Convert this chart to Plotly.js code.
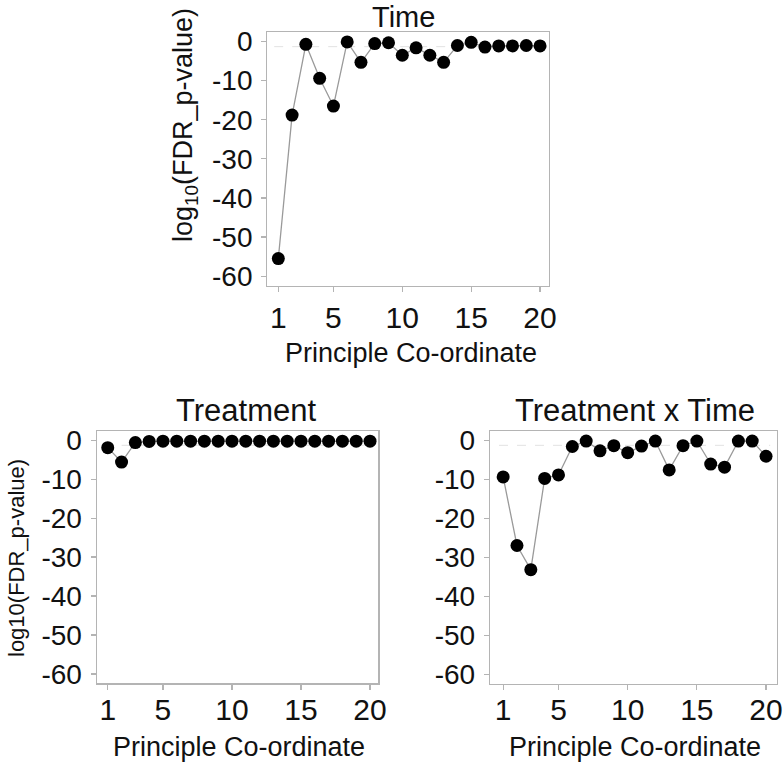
<!DOCTYPE html>
<html>
<head>
<meta charset="utf-8">
<script src="https://cdn.plot.ly/plotly-3.0.1.min.js"></script>
<style>html,body{margin:0;padding:0;background:#fff;}#chart{width:783px;height:764px;}</style>
</head>
<body>
<div id="chart"></div>
<script>
// ---- data ----
const coords = [1,2,3,4,5,6,7,8,9,10,11,12,13,14,15,16,17,18,19,20];
const timeVals = [-55.5,-18.8,-0.7,-9.4,-16.5,-0.1,-5.3,-0.5,-0.3,-3.5,-1.6,-3.5,-5.3,-1.0,-0.2,-1.4,-1.1,-1.1,-1.0,-1.1];
const treatmentVals = [-1.9,-5.6,-0.6,-0.3,-0.25,-0.25,-0.25,-0.25,-0.25,-0.25,-0.25,-0.25,-0.25,-0.25,-0.25,-0.25,-0.25,-0.25,-0.25,-0.25];
const interactionVals = [-9.4,-27.0,-33.2,-9.8,-8.9,-1.6,-0.2,-2.7,-1.4,-3.2,-1.5,-0.2,-7.6,-1.4,-0.2,-6.1,-6.9,-0.2,-0.2,-4.1];
const panelTitles = ["Time","Treatment","Treatment x Time"];
const xTicks = [1,5,10,15,20];
const yTicks = [0,-10,-20,-30,-40,-50,-60];
const threshold = -1.3;

const W = 783, H = 764;
const FONT = "Liberation Sans, Arial, sans-serif";

function trace(y, xa, ya){
  return {x: coords, y: y, xaxis: xa, yaxis: ya, type:'scatter', mode:'lines+markers',
    line:{color:'#9a9a9a', width:1.3},
    marker:{color:'#000', size:13},
    hoverinfo:'x+y', showlegend:false};
}

function xaxis(dom, rng, anchor, standoff){
  return {domain: dom, range: rng, anchor: anchor, tickvals: xTicks, ticktext: xTicks.map(String),
    showline:true, mirror:true, linecolor:'#b4b4b4', linewidth:1.2,
    ticks:'outside', ticklen:5, tickcolor:'#b4b4b4', tickwidth:1.2, ticklabelstandoff:standoff,
    showgrid:false, zeroline:false, tickfont:{family:FONT, size:30, color:'#111'}};
}
function yaxis(dom, anchor){
  return {domain: dom, range:[-62.4, 2.45], anchor: anchor, tickvals: yTicks, ticktext: yTicks.map(String),
    showline:true, mirror:true, linecolor:'#b4b4b4', linewidth:1.2,
    ticks:'outside', ticklen:5, tickcolor:'#b4b4b4', tickwidth:1.2, ticklabelstandoff:3,
    showgrid:false, zeroline:false, tickfont:{family:FONT, size:28, color:'#111'}};
}

// panel boxes (pixels)
const boxes = [
  {l:267.3, r:549, t:32, b:285.5},
  {l:96.7, r:378.3, t:430.7, b:683.3},
  {l:490, r:776.7, t:430.7, b:683.5}
];
function xd(b){return [b.l/W, b.r/W];}
function yd(b){return [1-b.b/H, 1-b.t/H];}

const data = [
  trace(timeVals,'x','y'),
  trace(treatmentVals,'x2','y2'),
  trace(interactionVals,'x3','y3')
];

const shapes = [['x','y'],['x2','y2'],['x3','y3']].map(([xa,ya]) => ({
  type:'line', xref:xa, yref:ya, x0:0.7, x1:20.3, y0:threshold, y1:threshold,
  line:{color:'#e2e2e2', width:1, dash:'dash'}, layer:'below'
}));

const annotations = [];
const titleY = [17, 410, 410];
const titleX = [403, 247, 635];
const titleSize = [29, 31, 31];
panelTitles.forEach((t,i)=>{
  annotations.push({text:t, xref:'paper', yref:'paper', x:titleX[i]/W, y:1-titleY[i]/H,
    xanchor:'center', yanchor:'middle', showarrow:false, font:{family:FONT, size:titleSize[i], color:'#111'}});
});
// x axis titles
[[411,353],[239,747],[635,747]].forEach(([cx,cy])=>{
  annotations.push({text:'Principle Co-ordinate', xref:'paper', yref:'paper', x:cx/W, y:1-cy/H,
    xanchor:'center', yanchor:'middle', showarrow:false, font:{family:FONT, size:27, color:'#111'}});
});
// y axis titles
annotations.push({text:'log<sub>10</sub>(FDR_p-value)', xref:'paper', yref:'paper', x:185/W, y:1-125/H,
  xanchor:'center', yanchor:'middle', textangle:-90, showarrow:false, font:{family:FONT, size:27, color:'#111'}});
annotations.push({text:'log10(FDR_p-value)', xref:'paper', yref:'paper', x:16/W, y:1-558/H,
  xanchor:'center', yanchor:'middle', textangle:-90, showarrow:false, font:{family:FONT, size:22, color:'#111'}});

const layout = {
  width: W, height: H, autosize:false,
  margin:{l:0,r:0,t:0,b:0},
  paper_bgcolor:'#fff', plot_bgcolor:'#fff',
  xaxis: xaxis(xd(boxes[0]), [0.2, 20.65], 'y', 0),
  yaxis: yaxis(yd(boxes[0]), 'x'),
  xaxis2: xaxis(xd(boxes[1]), [0.2, 20.6], 'y2', -6),
  yaxis2: yaxis(yd(boxes[1]), 'x2'),
  xaxis3: xaxis(xd(boxes[2]), [0.05, 20.77], 'y3', -6),
  yaxis3: yaxis(yd(boxes[2]), 'x3'),
  shapes: shapes,
  annotations: annotations
};

Plotly.newPlot('chart', data, layout, {displayModeBar:false, staticPlot:true});
</script>
</body>
</html>
